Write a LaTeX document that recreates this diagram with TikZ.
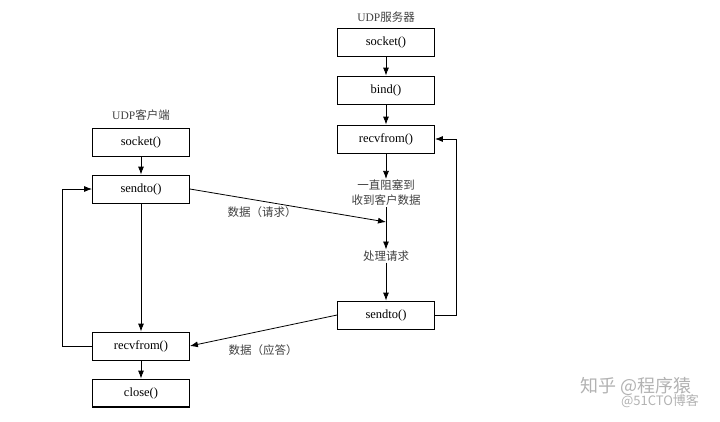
\documentclass[tikz,border=0pt]{standalone}
\usepackage{fontspec}
\setmainfont{Liberation Serif}
\newfontfamily\cjk{Noto Sans CJK SC}
\usetikzlibrary{arrows.meta}
\tikzset{
  callbox/.style={draw, line width=0.8pt, minimum width=97pt, minimum height=28pt, inner sep=0pt, font=\fontsize{12.5}{14}\selectfont},
  cntext/.style={font=\fontsize{11.5}{15}\selectfont, text=black!75, align=center, inner sep=1pt},
  flow/.style={-{Latex[length=8pt,width=6pt]}, line width=0.8pt},
  wmark/.style={text=black!30, inner sep=0pt}
}

\begin{document}
\begin{tikzpicture}[x=1pt, y=-1pt]
				\useasboundingbox (0,0) rectangle (720,421);
				
				% client side
				\node[cntext] (clienttitle) at (141,115) {UDP{\cjk 客户端}};
				\node[callbox] (csocket) at (141,142) {socket()};
				\node[callbox] (csend) at (141,189) {sendto()};
				\node[callbox] (crecv) at (141,346) {recvfrom()};
				\node[callbox] (cclose) at (141,393) {close()};
				\draw[line width=2pt] (cclose.south west) -- (cclose.south east);
				
				% server side
				\node[cntext] (servertitle) at (386,17) {UDP{\cjk 服务器}};
				\node[callbox] (ssocket) at (386,42) {socket()};
				\node[callbox] (sbind) at (386,90) {bind()};
				\node[callbox] (srecv) at (386,139) {recvfrom()};
				\node[cntext] (sblock) at (386,193) {\cjk 一直阻塞到\\\cjk 收到客户数据};
				\node[cntext] (sproc) at (386,256) {\cjk 处理请求};
				\node[callbox] (ssend) at (386,315) {sendto()};
				\coordinate (shit) at (386,222);
				
				\draw[flow] (csocket) -- (csend);
				\draw[flow] (csend) -- (crecv);
				\draw[flow] (crecv) -- (cclose);
				\draw[flow] (crecv.west) -- ++(-30,0) |- (csend.west);
				
				\draw[flow] (ssocket) -- (sbind);
				\draw[flow] (sbind) -- (srecv);
				\draw[flow] (srecv) -- (sblock);
				\draw[flow] (sblock) -- (sproc);
				\draw[flow] (sproc) -- (ssend);
				\draw[flow] (ssend.east) -- ++(21,0) |- (srecv.east);
				
				\draw[flow] (csend.east) -- (shit);
				\node[cntext] (reqlabel) at (262,212) {\cjk 数据（请求）};
				\draw[flow] (ssend.west) -- (crecv.east);
				\node[cntext] (replabel) at (263,350) {\cjk 数据（应答）};
				
				% watermark
				\node[wmark, font=\cjk\fontsize{18}{20}\selectfont] (zhihu) at (636,386) {知乎 @程序猿};
				\node[wmark, font=\cjk\fontsize{13}{15}\selectfont] (cto) at (660,401) {@51CTO博客};
\end{tikzpicture}
\end{document}
